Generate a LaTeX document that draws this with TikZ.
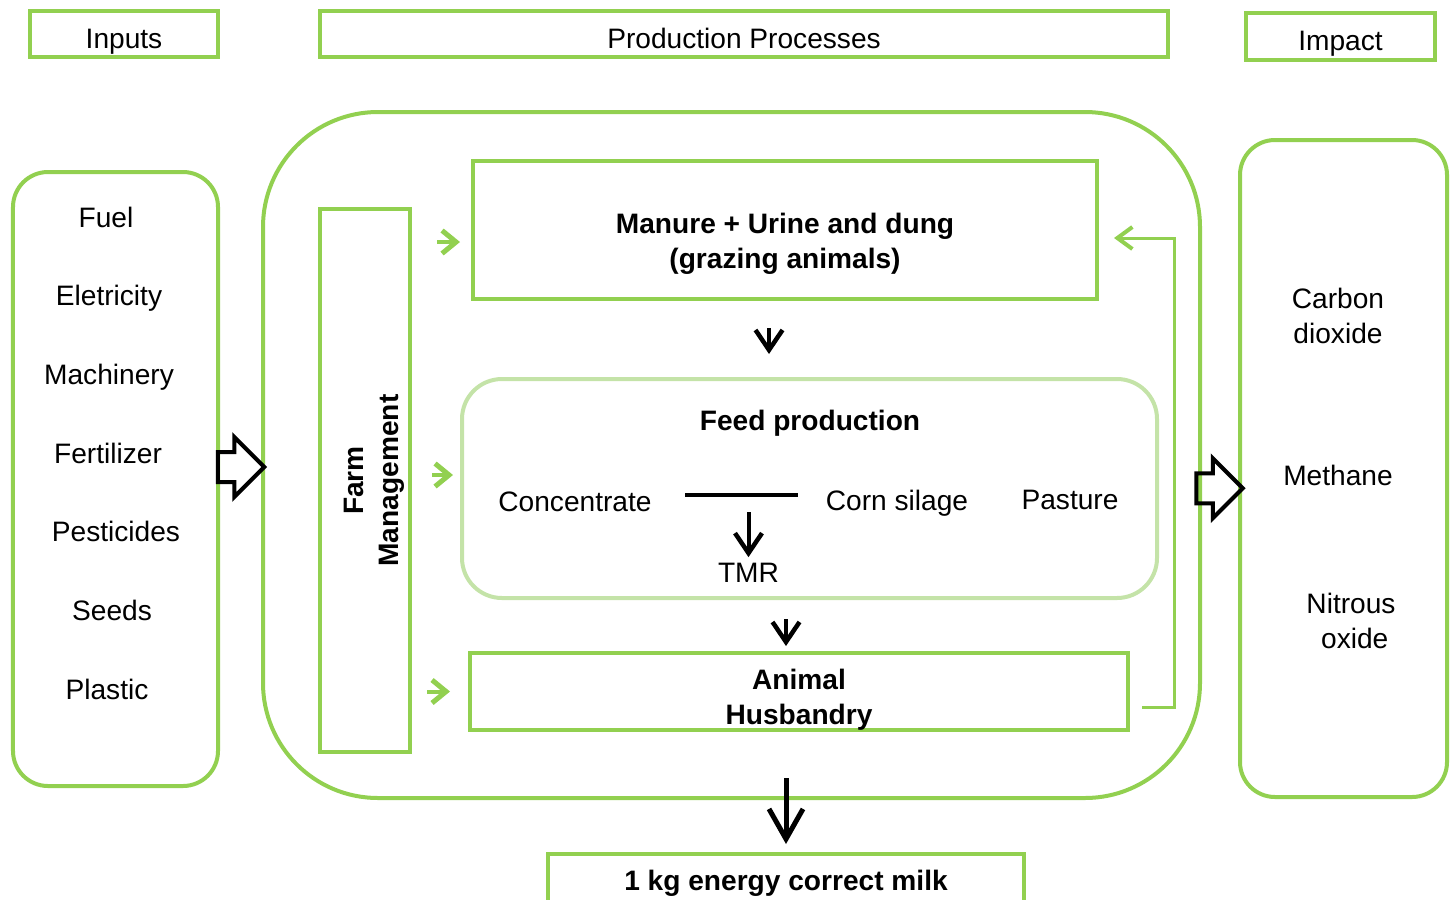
\documentclass[tikz,border=0pt]{standalone}
\usepackage{fontspec}
\setmainfont{Liberation Sans}
\usepackage{xcolor}
\usetikzlibrary{arrows.meta,calc,shapes.arrows}
\definecolor{leafgreen}{HTML}{92D050}
\definecolor{palegreen}{HTML}{C4E3A8}
\newcommand{\diagfont}{\fontsize{16}{20}\selectfont}

\begin{document}
\begin{tikzpicture}[
  hdr/.style={draw=leafgreen,line width=0.08cm,minimum height=0.92cm,font=\diagfont,
              text height=16pt,text depth=0pt},
  panel/.style={draw=leafgreen,line width=0.08cm,rounded corners=0.7cm},
  stage/.style={draw=leafgreen,line width=0.08cm},
  stagetxt/.style={align=center,font=\diagfont\bfseries},
  feedpanel/.style={draw=palegreen,line width=0.08cm,rounded corners=0.8cm},
  lbl/.style={font=\diagfont,align=center},
  garr/.style={-{Straight Barb[length=0.28cm,width=0.46cm,line width=0.1cm]},leafgreen,line width=0.08cm},
  blk/.style={-{Straight Barb[length=0.4cm,width=0.54cm,line width=0.09cm]},black,line width=0.08cm},
  fback/.style={-{Straight Barb[length=0.3cm,width=0.44cm,line width=0.08cm]},leafgreen,line width=0.06cm},
  hollow/.style={single arrow,draw=black,line width=0.08cm,inner xsep=0pt,inner ysep=0.26cm,
                 minimum height=0.93cm,single arrow head extend=0.3cm}
]
\useasboundingbox (0,0) rectangle (29.02,-17.98);

% ---- HEADERS ----
\node[hdr,minimum width=3.76cm] (inHead) at (2.48,-0.68) {Inputs};
\node[hdr,minimum width=16.96cm] (procHead) at (14.88,-0.68) {Production Processes};
\node[hdr,minimum width=3.78cm,minimum height=0.94cm] (impHead) at (26.81,-0.73) {Impact};

% ---- OUTER PANELS ----
\node[panel,minimum width=4.10cm,minimum height=12.28cm] (inputs) at (2.31,-9.58) {};
\node[panel,rounded corners=2.3cm,minimum width=18.74cm,minimum height=13.72cm] (process) at (14.63,-9.10) {};
\node[panel,minimum width=4.14cm,minimum height=13.14cm] (impact) at (26.87,-9.37) {};

% ---- INPUT LIST ----
\foreach \name/\x [count=\i] in {Fuel/2.12,Eletricity/2.18,Machinery/2.18,Fertilizer/2.16,
                                 Pesticides/2.32,Seeds/2.24,Plastic/2.14}
  \node[lbl,text height=11.5pt,text depth=0pt] (in\i) at (\x,{-4.34-1.574*(\i-1)}) {\name};

% ---- IMPACT LIST ----
\node[lbl] (co2) at (26.76,-6.32)  {Carbon\\dioxide};
\node[lbl] (ch4) at (26.76,-9.50)  {Methane};
\node[lbl] (n2o) at (27.02,-12.42) {Nitrous\\\hspace*{0.15cm}oxide};

% ---- PRODUCTION STAGES ----
\node[stage,minimum width=1.8cm,minimum height=10.86cm] (farm) at (7.30,-9.61) {};
\node[rotate=90,stagetxt] (farmLbl) at (7.48,-9.61) {Farm\\Management};

\node[stage,minimum width=12.48cm,minimum height=2.76cm] (manure) at (15.70,-4.60) {};
\node[stagetxt] (manureLbl) at ($(manure)+(0,-0.28)$) {Manure + Urine and dung\\(grazing animals)};

\node[feedpanel,minimum width=13.90cm,minimum height=4.38cm] (feed) at (16.19,-9.77) {};
\node[stagetxt] (feedTitle) at (16.20,-8.46) {Feed production};
\node[lbl] (conc)    at (11.50,-10.04) {Concentrate};
\node[lbl] (corn)    at (17.94,-10.06) {Corn silage};
\node[lbl] (pasture) at (21.40,-10.00) {Pasture};
\node[lbl] (tmr)     at (14.97,-11.46) {TMR};

\node[stage,minimum width=13.16cm,minimum height=1.54cm] (husbandry) at (15.98,-13.83) {};
\node[stagetxt] (husbandryLbl) at ($(husbandry)+(0,-0.17)$) {Animal\\Husbandry};

\node[stage,minimum width=9.52cm,minimum height=1.08cm] (milk) at (15.72,-17.62) {};
\node[stagetxt] (milkLbl) at ($(milk)+(0,-0.05)$) {1 kg energy correct milk};

% ---- TMR MIX ----
\coordinate (mixL) at (13.70,-9.90);
\coordinate (mixR) at (15.96,-9.90);
\draw[line width=0.08cm] (mixL) -- (mixR);
\draw[blk] ($(tmr.north |- mixL)+(0,-0.34)$) -- (tmr.north);

% ---- FLOW ----
\draw[blk] ($(manure.south)+(-0.32,-0.54)$) -- ($(manure.south |- feed.north)+(-0.32,0.46)$);
\draw[blk] ($(milk.north |- feed.south)+(0,-0.38)$) -- ($(milk.north |- husbandry.north)+(0,0.10)$);
\draw[blk,line width=0.1cm,-{Straight Barb[length=0.6cm,width=0.68cm,line width=0.1cm]}]
  ($(milk.north |- husbandry.south)+(0,-0.92)$) -- ($(milk.north)+(0,0.16)$);

% ---- FARM MANAGEMENT ARROWS ----
\draw[garr] ($(farm.east |- manure.west)+(0.50,-0.24)$) -- ($(manure.west)+(-0.22,-0.24)$);
\draw[garr] ($(farm.east |- feed.west)+(0.40,0.27)$) -- ($(feed.west)+(-0.14,0.27)$);
\draw[garr] ($(farm.east |- husbandry.west)+(0.30,0)$) -- ($(husbandry.west)+(-0.36,0)$);

% ---- FEEDBACK ----
\draw[fback] ($(husbandry.east)+(0.24,-0.31)$) -- ++(0.64,0) |- ($(manure.east)+(0.30,-0.16)$);

% ---- HOLLOW ARROWS ----
\node[hollow] (inArr)  at ($($(inputs.east)!0.5!(process.west)$)+(-0.14,0)$) {};
\node[hollow] (outArr) at ($($(process.east)!0.5!(impact.west)$)+(-0.16,-0.53)$) {};

\end{tikzpicture}
\end{document}
